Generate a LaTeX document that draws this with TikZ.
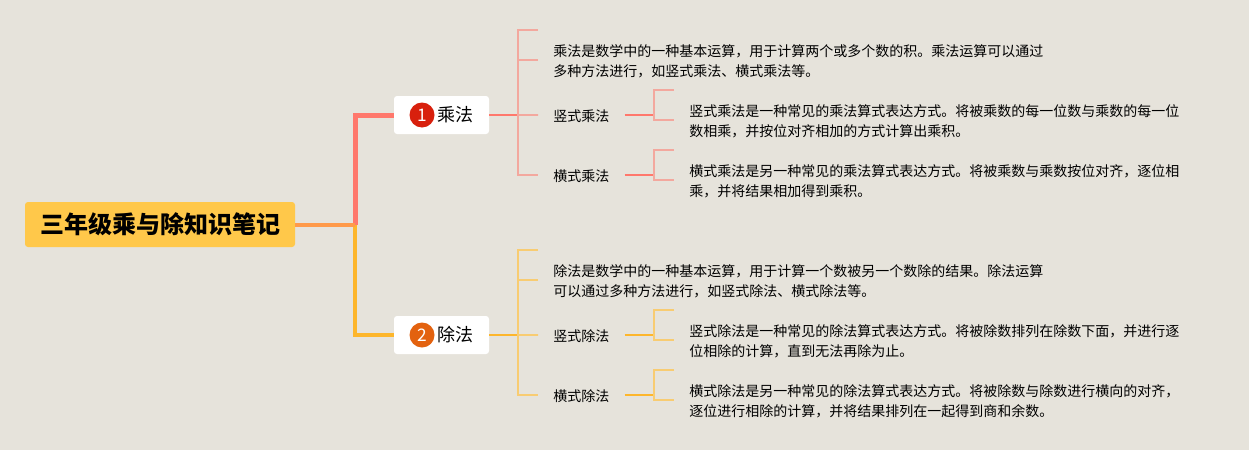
\documentclass[tikz,border=0pt]{standalone}
\usepackage{fontspec}
\setmainfont{Noto Sans CJK SC}
\definecolor{paper}{HTML}{E6E3DB}
\definecolor{rootfill}{HTML}{FFC84A}
\definecolor{stemmix}{HTML}{FF9A4A}
\definecolor{redline}{HTML}{FF786C}
\definecolor{redfork}{HTML}{F3A89E}
\definecolor{redbadge}{HTML}{D8200D}
\definecolor{yelline}{HTML}{FDB62C}
\definecolor{yelfork}{HTML}{F8CC72}
\definecolor{yelbadge}{HTML}{E3620F}
\tikzset{
rootbox/.style={fill=rootfill,rounded corners=2.25pt,minimum width=202.5pt,minimum height=33.75pt,inner sep=0pt,font=\fontsize{18}{22}\selectfont\bfseries},
branchbox/.style={fill=white,rounded corners=2.25pt,minimum width=71.25pt,minimum height=28.5pt,inner sep=0pt,font=\fontsize{13.5}{16}\selectfont},
badge/.style={circle,fill=#1,text=white,minimum size=18.75pt,inner sep=0pt,font=\fontsize{13}{15}\selectfont},
notetext/.style={anchor=west,inner xsep=11.25pt,inner ysep=0pt,align=left,font=\fontsize{10.5}{15.3}\selectfont},
}
% one fork: two stubs from a coordinate to a note and a free end
\newcommand{\subfork}[5]{
\coordinate (#1j) at (654,#4);
\coordinate (#1t) at (674,#4-25);
\node[notetext] (#1n) at (674,#4+6.5) {#5};
\draw[#2,line width=1.5pt] (#1.east |- #1j) -- (#1j);
\draw[#3,line width=1.3pt] (#1t) -| (#1j);
\draw[#3,line width=1.3pt] (#1j) |- ([yshift=1.1pt]#1n.west);
}
\begin{document}
\begin{tikzpicture}[x=.75pt,y=-.75pt]
\fill[paper] (0,0) rectangle (1249,450);

\node[rootbox] (root) at (160,224.5) {\raisebox{-.75pt}{三年级乘与除知识笔记}};
\node[branchbox] (cheng) at (441.5,115) {\hspace*{21pt}\raisebox{-1.2pt}{乘法}};
\node[branchbox] (chu) at (441.5,335) {\hspace*{21pt}\raisebox{-1.2pt}{除法}};
\node[badge=redbadge] (chengnum) at (422,115) {1};
\node[badge=yelbadge] (chunum) at (422,335) {2};

\coordinate (mid) at (355,225);
\draw[redline,line width=3.75pt] (mid) |- (cheng);
\draw[yelline,line width=2.6pt] (mid) |- (chu);
\draw[stemmix,line width=3pt] (root.east |- mid) -- (mid);

% multiplication
\coordinate (chengj) at (518,115);
\coordinate (chengtop) at (538,30);
\node[notetext] (chengnote) at (538,61.5) {乘法是数学中的一种基本运算，用于计算两个或多个数的积。乘法运算可以通过\\多种方法进行，如竖式乘法、横式乘法等。};
\node[notetext] (shua) at (538,116.5) {竖式乘法};
\node[notetext] (shub) at (538,176.5) {横式乘法};
\draw[redline,line width=1.5pt] (cheng) -- (chengj);
\draw[redfork,line width=1.3pt] (chengj) |- (chengtop);
\draw[redfork,line width=1.3pt] (chengj) |- ([yshift=1.1pt]chengnote.west);
\draw[redfork,line width=1.3pt] (chengj) -- ([yshift=1.1pt]shua.west);
\draw[redfork,line width=1.3pt] (chengj) |- ([yshift=1.1pt]shub.west);
\subfork{shua}{redline}{redfork}{115}{竖式乘法是一种常见的乘法算式表达方式。将被乘数的每一位数与乘数的每一位\\数相乘，并按位对齐相加的方式计算出乘积。}
\subfork{shub}{redline}{redfork}{175}{横式乘法是另一种常见的乘法算式表达方式。将被乘数与乘数按位对齐，逐位相\\乘，并将结果相加得到乘积。}

% division
\coordinate (chuj) at (518,335);
\coordinate (chutop) at (538,250);
\node[notetext] (chunote) at (538,281.5) {除法是数学中的一种基本运算，用于计算一个数被另一个数除的结果。除法运算\\可以通过多种方法进行，如竖式除法、横式除法等。};
\node[notetext] (hena) at (538,336.5) {竖式除法};
\node[notetext] (henb) at (538,396.5) {横式除法};
\draw[yelline,line width=1.5pt] (chu) -- (chuj);
\draw[yelfork,line width=1.3pt] (chuj) |- (chutop);
\draw[yelfork,line width=1.3pt] (chuj) |- ([yshift=1.1pt]chunote.west);
\draw[yelfork,line width=1.3pt] (chuj) -- ([yshift=1.1pt]hena.west);
\draw[yelfork,line width=1.3pt] (chuj) |- ([yshift=1.1pt]henb.west);
\subfork{hena}{yelline}{yelfork}{335}{竖式除法是一种常见的除法算式表达方式。将被除数排列在除数下面，并进行逐\\位相除的计算，直到无法再除为止。}
\subfork{henb}{yelline}{yelfork}{395}{横式除法是另一种常见的除法算式表达方式。将被除数与除数进行横向的对齐，\\逐位进行相除的计算，并将结果排列在一起得到商和余数。}
\end{tikzpicture}
\end{document}
